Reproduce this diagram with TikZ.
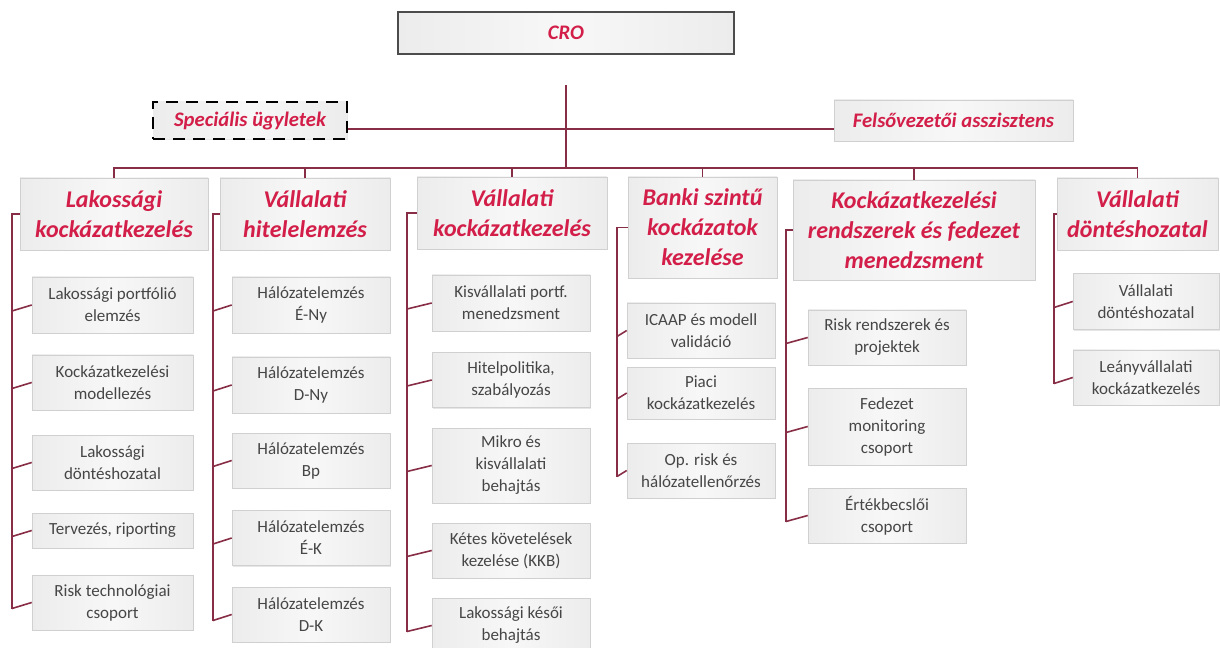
\documentclass[tikz,border=0pt]{standalone}
\usepackage{fontspec}
\setmainfont{Carlito}
\usepackage{tikz}
\usetikzlibrary{
	calc,
	shadows
}
\definecolor{crored}{RGB}{210,30,72}
\definecolor{linered}{RGB}{135,45,70}
\definecolor{boxgray}{RGB}{236,236,236}
\definecolor{boxline}{RGB}{208,208,208}
\definecolor{subtext}{RGB}{70,70,70}

\tikzset{
	box/.style={draw=boxline, inner sep=2pt, align=center,
		left color=boxgray, right color=boxgray, middle color=boxgray!40,
		drop shadow={shadow xshift=1pt, shadow yshift=-1pt, opacity=0.2}},
	hdr/.style={box, text=crored, minimum height=54pt,
		font=\fontsize{18}{22.5}\selectfont\bfseries\itshape},
	topbox/.style={box, text=crored, font=\fontsize{15.5}{18}\selectfont\bfseries\itshape},
	sub/.style={box, text=subtext, minimum height=41.25pt,
		font=\fontsize{12.75}{16.5}\selectfont},
	conn/.style={draw=linered, line width=1.2pt}
}

\begin{document}
\begin{tikzpicture}[x=0.75pt, y=-0.75pt]
		\useasboundingbox (0,0) rectangle (1220,648);
		% top level
		\node[topbox, draw=black!70, line width=1pt, minimum width=252pt, minimum height=31.5pt] (cro) at (566,33) {CRO};
		\node[topbox, draw=black, dash pattern=on 9pt off 6pt, line width=1.8pt, minimum width=145.5pt, minimum height=27.75pt] (spec) at (250,120.5) {Speciális ügyletek};
		\node[topbox, minimum width=179.25pt, minimum height=30.75pt] (fels) at (953.5,120.5) {Felsővezetői asszisztens};

		% headers
		\node[hdr, minimum width=141pt] (h1) at (114,214) {Lakossági\\kockázatkezelés};
		\node[hdr, minimum width=127.5pt] (h2) at (305,214) {Vállalati\\hitelelemzés};
		\node[hdr, minimum width=142.5pt] (h3) at (512,213) {Vállalati\\kockázatkezelés};
		\node[hdr, minimum width=111.75pt, minimum height=75.75pt] (h4) at (702.5,227.5) {Banki szintű\\kockázatok\\kezelése};
		\node[hdr, minimum width=181.5pt, minimum height=75pt] (h5) at (914,230) {Kockázatkezelési\\rendszerek és fedezet\\menedzsment};
		\node[hdr, minimum width=120.75pt] (h6) at (1137.5,214) {Vállalati\\döntéshozatal};

		% column 1
		\node[sub, minimum width=120.75pt, minimum height=42pt] (c11) at (112.5,305) {Lakossági portfólió\\elemzés};
		\node[sub, minimum width=120.75pt] (c12) at (112.5,382.5) {Kockázatkezelési\\modellezés};
		\node[sub, minimum width=120.75pt] (c13) at (112.5,462.5) {Lakossági\\döntéshozatal};
		\node[sub, minimum width=120.75pt, minimum height=26.25pt] (c14) at (112.5,530.5) {Tervezés, riporting};
		\node[sub, minimum width=120.75pt] (c15) at (112.5,602.5) {Risk technológiai\\csoport};

		% column 2
		\node[sub, minimum width=118.5pt, minimum height=42pt] (c21) at (311,305) {Hálózatelemzés\\É-Ny};
		\node[sub, minimum width=118.5pt, minimum height=42pt] (c22) at (311,385) {Hálózatelemzés\\D-Ny};
		\node[sub, minimum width=118.5pt] (c23) at (311,460.5) {Hálózatelemzés\\Bp};
		\node[sub, minimum width=118.5pt] (c24) at (311,538) {Hálózatelemzés\\É-K};
		\node[sub, minimum width=118.5pt] (c25) at (311,614.5) {Hálózatelemzés\\D-K};

		% column 3
		\node[sub, minimum width=118.5pt, minimum height=42pt] (c31) at (511,303) {Kisvállalati portf.\\menedzsment};
		\node[sub, minimum width=118.5pt] (c32) at (511,380) {Hitelpolitika,\\szabályozás};
		\node[sub, minimum width=118.5pt, minimum height=56.25pt] (c33) at (511,465.5) {Mikro és\\kisvállalati\\behajtás};
		\node[sub, minimum width=118.5pt] (c34) at (511,550.5) {Kétes követelések\\kezelése (KKB)};
		\node[sub, minimum width=118.5pt] (c35) at (511,625.5) {Lakossági késői\\behajtás};

		% column 4
		\node[sub, minimum width=111pt] (c41) at (701,330.5) {ICAAP és modell\\validáció};
		\node[sub, minimum width=111pt, minimum height=39pt] (c42) at (701,393) {Piaci\\kockázatkezelés};
		\node[sub, minimum width=111pt] (c43) at (701,470.5) {Op. risk és\\hálózatellenőrzés};

		% column 5
		\node[sub, minimum width=118.5pt] (c51) at (887,337.5) {Risk rendszerek és\\projektek};
		\node[sub, minimum width=118.5pt, minimum height=57.75pt] (c52) at (887,426.5) {Fedezet\\monitoring\\csoport};
		\node[sub, minimum width=118.5pt] (c53) at (887,515.5) {Értékbecslői\\csoport};

		% column 6
		\node[sub, minimum width=109.5pt, minimum height=42pt] (c61) at (1146,301.5) {Vállalati\\döntéshozatal};
		\node[sub, minimum width=109.5pt] (c62) at (1146,377.5) {Leányvállalati\\kockázatkezelés};

		% trunk and bus
		\coordinate (top) at (566,85);
		\coordinate (bus) at (566,168);
		\coordinate (side) at (566,129);
		\draw[conn] (top) -- (bus);
		\draw[conn] (spec.east |- side) -- (fels.west |- side);
		\draw[conn] (h1.north) |- (bus) -| (h6.north);
		\foreach \h in {h2,h3,h4,h5}
			\draw[conn] (\h.north) -- (\h.north |- bus);

		% side rails
		\coordinate (v1) at (12,0);
		\coordinate (v2) at (213,0);
		\coordinate (v3) at (407,0);
		\coordinate (v4) at (617,0);
		\coordinate (v5) at (786,0);
		\coordinate (v6) at (1054,0);
		\draw[conn] (h1.west) -| ($(v1 |- c15.west)+(0,6)$);
		\draw[conn] (h2.west) -| ($(v2 |- c25.west)+(0,6)$);
		\draw[conn] (h3.west) -| ($(v3 |- c35.west)+(0,6)$);
		\draw[conn] (h4.west) -| ($(v4 |- c43.west)+(0,6)$);
		\draw[conn] (h5.west) -| ($(v5 |- c53.west)+(0,6)$);
		\draw[conn] (h6.west) -| ($(v6 |- c62.west)+(0,6)$);
		\foreach \c in {c11,c12,c13,c14,c15}
			\draw[conn] ($(v1 |- \c.west)+(0,6)$) -- (\c.west);
		\foreach \c in {c21,c22,c23,c24,c25}
			\draw[conn] ($(v2 |- \c.west)+(0,6)$) -- (\c.west);
		\foreach \c in {c31,c32,c33,c34,c35}
			\draw[conn] ($(v3 |- \c.west)+(0,6)$) -- (\c.west);
		\foreach \c in {c41,c42,c43}
			\draw[conn] ($(v4 |- \c.west)+(0,6)$) -- (\c.west);
		\foreach \c in {c51,c52,c53}
			\draw[conn] ($(v5 |- \c.west)+(0,6)$) -- (\c.west);
		\foreach \c in {c61,c62}
			\draw[conn] ($(v6 |- \c.west)+(0,6)$) -- (\c.west);
	\end{tikzpicture}
\end{document}
